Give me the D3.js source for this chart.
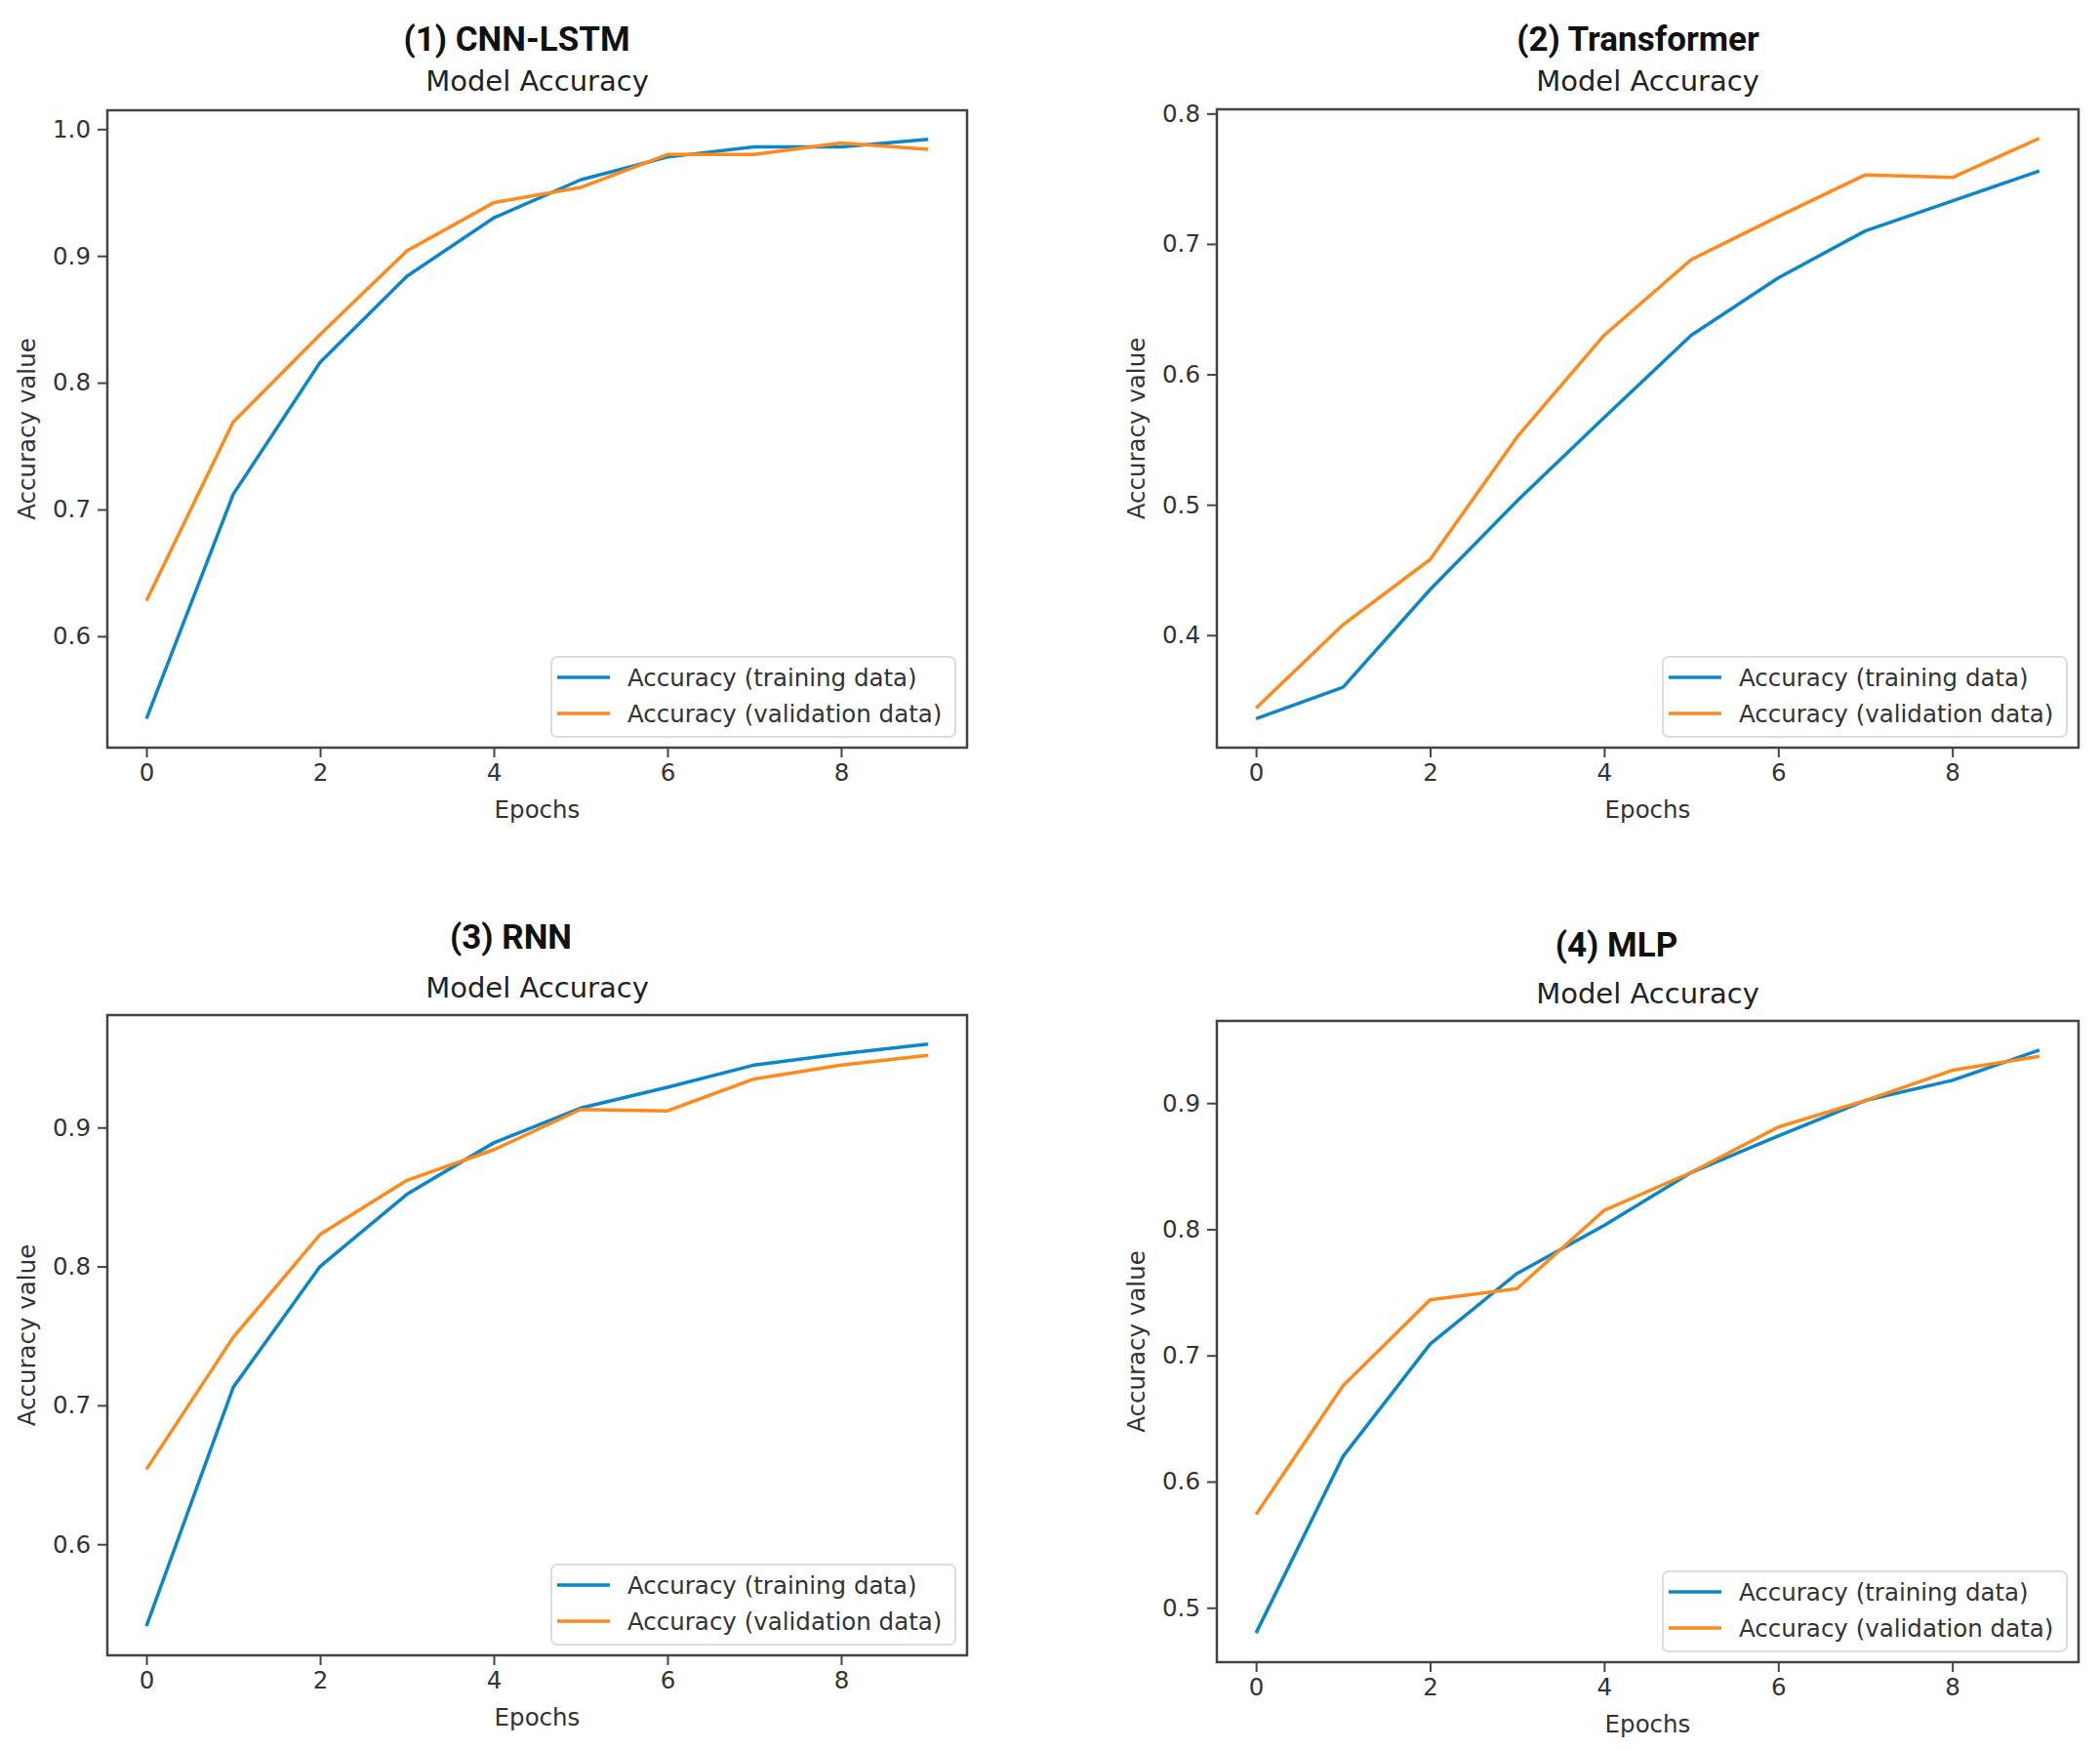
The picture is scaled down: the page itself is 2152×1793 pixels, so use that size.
<!DOCTYPE html>
<html>
<head>
<meta charset="utf-8">
<script src="https://cdn.jsdelivr.net/npm/d3@7"></script>
<style>
  body { margin: 0; background: #fff; }
  text { font-family: "DejaVu Sans", sans-serif; fill: #333; }
</style>
</head>
<body>
<div id="chart-container"></div>
<script>
const epochs = [0, 1, 2, 3, 4, 5, 6, 7, 8, 9];
const xTicks = [0, 2, 4, 6, 8];

const titles = ["(1) CNN-LSTM", "(2) Transformer", "(3) RNN", "(4) MLP"];
const seriesNames = ["Accuracy (training data)", "Accuracy (validation data)"];

const cnnTrain = [0.535, 0.712, 0.816, 0.884, 0.930, 0.960, 0.978, 0.986, 0.986, 0.992];
const cnnVal   = [0.628, 0.769, 0.838, 0.904, 0.942, 0.954, 0.980, 0.980, 0.989, 0.984];

const trfTrain = [0.336, 0.360, 0.435, 0.503, 0.567, 0.630, 0.674, 0.710, 0.733, 0.756];
const trfVal   = [0.344, 0.408, 0.458, 0.552, 0.630, 0.688, 0.721, 0.753, 0.751, 0.781];

const rnnTrain = [0.541, 0.713, 0.800, 0.852, 0.889, 0.914, 0.929, 0.945, 0.953, 0.960];
const rnnVal   = [0.654, 0.749, 0.823, 0.862, 0.884, 0.913, 0.912, 0.935, 0.945, 0.952];

const mlpTrain = [0.480, 0.620, 0.709, 0.765, 0.803, 0.845, 0.874, 0.902, 0.918, 0.942];
const mlpVal   = [0.574, 0.676, 0.744, 0.753, 0.815, 0.845, 0.881, 0.902, 0.926, 0.937];

const colors = ["#0b86c8", "#ff8a1c"];

// panel boxes in page pixels
const layout = [
  { x0: 110,  x1: 991,  y0: 113,  y1: 766,  titleY: 52,  subY: 93,   titleDx: -21 },
  { x0: 1247, x1: 2130, y0: 112,  y1: 766,  titleY: 52,  subY: 93,   titleDx: -10 },
  { x0: 110,  x1: 991,  y0: 1040, y1: 1696, titleY: 972, subY: 1022, titleDx: -27 },
  { x0: 1247, x1: 2130, y0: 1046, y1: 1703, titleY: 980, subY: 1028, titleDx: -32 }
];

const panels = [
  [cnnTrain, cnnVal],
  [trfTrain, trfVal],
  [rnnTrain, rnnVal],
  [mlpTrain, mlpVal]
];

const svg = d3.select("#chart-container")
  .append("svg")
  .attr("width", 2152)
  .attr("height", 1793);

svg.append("rect").attr("width", 2152).attr("height", 1793).attr("fill", "#fff");

panels.forEach((series, i) => {
  const L = layout[i];
  const w = L.x1 - L.x0, h = L.y1 - L.y0;
  const g = svg.append("g").attr("transform", `translate(${L.x0},${L.y0})`);

  // matplotlib-like 5% margins
  const xPad = (epochs[epochs.length - 1] - epochs[0]) * 0.05;
  const x = d3.scaleLinear()
    .domain([epochs[0] - xPad, epochs[epochs.length - 1] + xPad])
    .range([0, w]);

  const all = series.flat();
  const lo = d3.min(all), hi = d3.max(all);
  const yPad = (hi - lo) * 0.05;
  const y = d3.scaleLinear()
    .domain([lo - yPad, hi + yPad])
    .range([h, 0]);

  const xAxis = g.append("g")
    .attr("transform", `translate(0,${h})`)
    .call(d3.axisBottom(x).tickValues(xTicks).tickSize(10).tickPadding(7).tickFormat(d3.format("d")));

  const yAxis = g.append("g")
    .call(d3.axisLeft(y).ticks(5).tickSize(10).tickPadding(7).tickFormat(d3.format(".1f")));

  [xAxis, yAxis].forEach(a => {
    a.select(".domain").remove();
    a.selectAll(".tick line").attr("stroke", "#444").attr("stroke-width", 2);
    a.selectAll(".tick text").style("font-size", "24.5px").attr("fill", "#333");
  });

  const line = d3.line()
    .x((d, j) => x(epochs[j]))
    .y(d => y(d));

  series.forEach((vals, k) => {
    g.append("path")
      .datum(vals)
      .attr("fill", "none")
      .attr("stroke", colors[k])
      .attr("stroke-width", 3.5)
      .attr("stroke-linejoin", "round")
      .attr("d", line);
  });

  // frame
  g.append("rect")
    .attr("width", w).attr("height", h)
    .attr("fill", "none")
    .attr("stroke", "#444")
    .attr("stroke-width", 2.5);

  // legend, lower right
  const lw = 414, lh = 82;
  const lg = g.append("g").attr("transform", `translate(${w - 12 - lw},${h - 11 - lh})`);
  lg.append("rect")
    .attr("width", lw).attr("height", lh).attr("rx", 6)
    .attr("fill", "#fff").attr("fill-opacity", 0.85)
    .attr("stroke", "#dcdcdc").attr("stroke-width", 2);
  seriesNames.forEach((name, k) => {
    const ry = 21 + k * 37;
    lg.append("line")
      .attr("x1", 6).attr("x2", 60).attr("y1", ry).attr("y2", ry)
      .attr("stroke", colors[k]).attr("stroke-width", 3.5);
    lg.append("text")
      .attr("x", 78).attr("y", ry)
      .attr("dy", "0.36em")
      .style("font-size", "24.5px")
      .text(name);
  });

  // axis labels
  g.append("text")
    .attr("x", w / 2).attr("y", h + 72)
    .attr("text-anchor", "middle")
    .style("font-size", "24.5px")
    .text("Epochs");

  g.append("text")
    .attr("transform", "rotate(-90)")
    .attr("x", -h / 2).attr("y", -74)
    .attr("text-anchor", "middle")
    .style("font-size", "24.5px")
    .text("Accuracy value");

  // titles
  svg.append("text")
    .attr("x", L.x0 + w / 2 + L.titleDx).attr("y", L.titleY)
    .attr("text-anchor", "middle")
    .style("font-family", "Roboto, 'DejaVu Sans', sans-serif")
    .style("font-weight", "bold")
    .style("font-size", "35px")
    .style("fill", "#111")
    .text(titles[i]);

  svg.append("text")
    .attr("x", L.x0 + w / 2).attr("y", L.subY)
    .attr("text-anchor", "middle")
    .style("font-size", "29px")
    .style("fill", "#222")
    .text("Model Accuracy");
});
</script>
</body>
</html>
